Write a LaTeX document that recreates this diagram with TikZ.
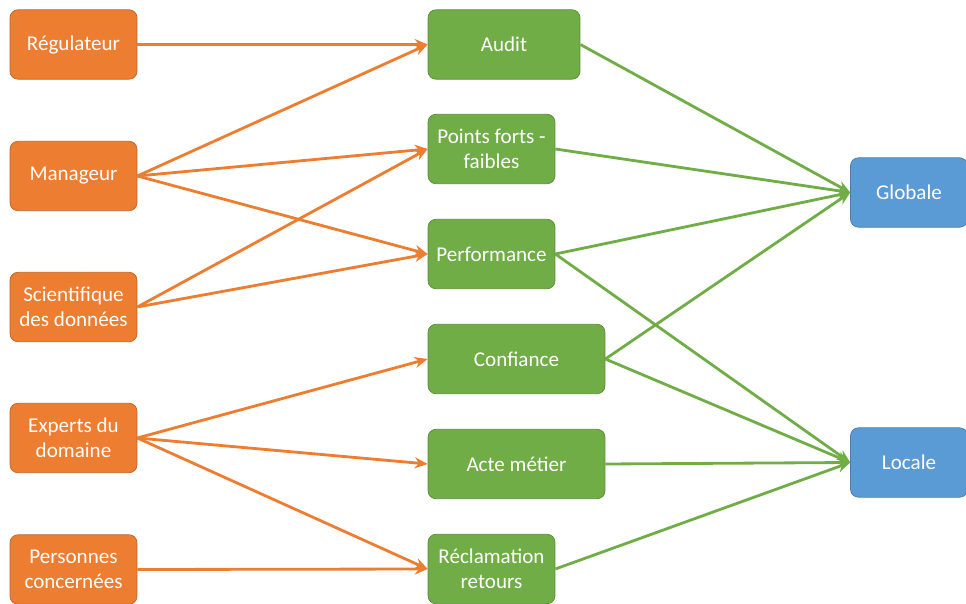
\documentclass[tikz,border=0pt]{standalone}
\usepackage{fontspec}
\setmainfont{Carlito}
\usetikzlibrary{arrows.meta}
\definecolor{boxorange}{HTML}{ED7D31}
\definecolor{boxgreen}{HTML}{70AD47}
\definecolor{boxblue}{HTML}{5B9BD5}

\begin{document}
\begin{tikzpicture}[x = 0.02cm, y = -0.02cm,
                    font = \fontsize{12}{14.2}\selectfont,
                    box/.style = {rounded corners = 0.16cm, text = white, align = center,
                                  minimum height = 1.39cm, inner sep = 0pt, line width = 0.4pt},
                    actor/.style = {box, fill = boxorange, draw = boxorange!80!black, minimum width = 2.54cm},
                    usage/.style = {box, fill = boxgreen, draw = boxgreen!80!black},
                    scope/.style = {box, fill = boxblue, draw = boxblue!80!black, minimum width = 2.34cm},
                    ora/.style = {draw = boxorange, line width = 1.6pt, -{Stealth[length = 0.26cm, width = 0.22cm]}},
                    gra/.style = {draw = boxgreen, line width = 1.6pt, -{Stealth[length = 0.26cm, width = 0.22cm]}}]
  \useasboundingbox (0, 0) rectangle (966, 604);

  \node [actor] (REG) at (73.5, 44.5){Régulateur};
  \node [actor] (MAN) at (73.5, 176){Manageur};
  \node [actor] (SCI) at (73.5, 307){Scientifique\\des données};
  \node [actor] (EXP) at (73.5, 438){Experts du\\domaine};
  \node [actor] (PER) at (73.5, 569.5){Personnes\\concernées};

  \node [usage, minimum width = 3.04cm] (AUD) at (504, 44.5){Audit};
  \node [usage, minimum width = 2.54cm] (PFF) at (491.5, 149){Points forts -\\faibles};
  \node [usage, minimum width = 2.54cm] (PRF) at (491.5, 254){Performance};
  \node [usage, minimum width = 3.54cm] (CON) at (516.5, 359){Confiance};
  \node [usage, minimum width = 3.54cm] (ACT) at (516.5, 464){Acte métier};
  \node [usage, minimum width = 2.54cm] (REC) at (491.5, 569){Réclamation\\retours};

  \node [scope] (GLO) at (909, 192.5){Globale};
  \node [scope] (LOC) at (909, 462.5){Locale};

  \draw (REG.east) edge [ora] (AUD.west);
  \draw (MAN.east) edge [ora] (AUD.west);
  \draw (MAN.east) edge [ora] (PFF.west);
  \draw (MAN.east) edge [ora] (PRF.west);
  \draw (SCI.east) edge [ora] (PFF.west);
  \draw (SCI.east) edge [ora] (PRF.west);
  \draw (EXP.east) edge [ora] (CON.west);
  \draw (EXP.east) edge [ora] (ACT.west);
  \draw (EXP.east) edge [ora] (REC.west);
  \draw (PER.east) edge [ora] (REC.west);

  \draw (AUD.east) edge [gra] (GLO.west);
  \draw (PFF.east) edge [gra] (GLO.west);
  \draw (PRF.east) edge [gra] (GLO.west);
  \draw (PRF.east) edge [gra] (LOC.west);
  \draw (CON.east) edge [gra] (GLO.west);
  \draw (CON.east) edge [gra] (LOC.west);
  \draw (ACT.east) edge [gra] (LOC.west);
  \draw (REC.east) edge [gra] (LOC.west);
\end{tikzpicture}
\end{document}
